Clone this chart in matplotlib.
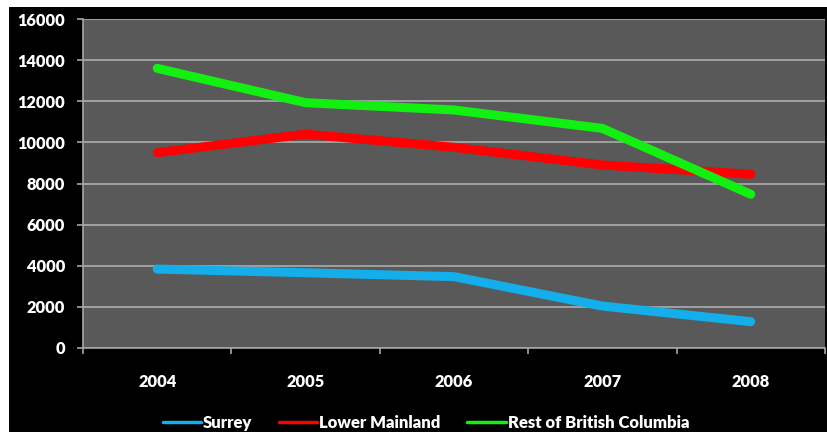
import numpy as np
import matplotlib.pyplot as plt
from matplotlib.patches import Rectangle

# data
years = ['2004', '2005', '2006', '2007', '2008']
surrey = [3840, 3660, 3470, 2040, 1280]
lower_mainland = [9500, 10400, 9760, 8900, 8450]
rest_of_bc = [13600, 11930, 11575, 10680, 7475]
y_ticks = [0, 2000, 4000, 6000, 8000, 10000, 12000, 14000, 16000]

plt.rcParams['font.family'] = ['Lato', 'DejaVu Sans']

fig = plt.figure(figsize=(8.28, 4.32), dpi=100)
fig.patch.set_facecolor('white')
# black chart area with thin white margin at top/left
fig.add_artist(Rectangle((9 / 828, 0), 1 - 9 / 828, 1 - 7 / 432,
                         transform=fig.transFigure, facecolor='black',
                         edgecolor='none', zorder=0))

ax = fig.add_axes([83 / 828, 1 - 348 / 432, (825 - 83) / 828, (348 - 19) / 432])
ax.set_facecolor('#595959')

x = np.arange(len(years))
lw = 6.5
ax.plot(x, surrey, color='#14aeea', lw=lw, solid_capstyle='round',
        solid_joinstyle='round', label='Surrey', zorder=3)
ax.plot(x, lower_mainland, color='#ff0000', lw=lw, solid_capstyle='round',
        solid_joinstyle='round', label='Lower Mainland', zorder=3)
ax.plot(x, rest_of_bc, color='#12f012', lw=lw, solid_capstyle='round',
        solid_joinstyle='round', label='Rest of British Columbia', zorder=3)

ax.set_xlim(-0.5, len(years) - 0.5)
ax.set_ylim(0, 16000)
ax.set_yticks(y_ticks)
ax.set_yticklabels([str(v) for v in y_ticks])
ax.grid(axis='y', color='#a6a6a6', lw=1.3)
ax.set_axisbelow(True)

# category labels in the middle, tick marks between categories
ax.set_xticks(x)
ax.set_xticklabels(years)
ax.set_xticks(np.arange(len(years) + 1) - 0.5, minor=True)
ax.tick_params(axis='x', which='major', length=0, pad=19)
ax.tick_params(axis='x', which='minor', length=4, color='#a6a6a6', width=1.2)
ax.tick_params(axis='y', length=4, color='#a6a6a6', width=1.2, pad=9)
for lab in ax.get_xticklabels() + ax.get_yticklabels():
    lab.set_color('white')
    lab.set_fontweight('heavy')
    lab.set_fontsize(11.8)

for side in ['top', 'right']:
    ax.spines[side].set_visible(False)
for side in ['left', 'bottom']:
    ax.spines[side].set_color('#a6a6a6')
    ax.spines[side].set_linewidth(1.2)

leg = fig.legend(loc='center', bbox_to_anchor=(426 / 828, 1 - 423 / 432), ncol=3,
                 frameon=False, handlelength=2.3, handletextpad=0.12,
                 columnspacing=1.6, prop={'weight': 'heavy', 'size': 12})
for line in leg.get_lines():
    line.set_linewidth(2.5)
for t in leg.get_texts():
    t.set_color('white')

fig.savefig('out.png', dpi=100, facecolor=fig.get_facecolor())
